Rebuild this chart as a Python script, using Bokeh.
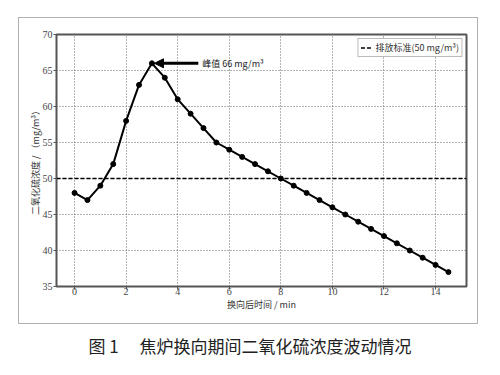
from bokeh.plotting import figure
from bokeh.models import (ColumnDataSource, Label, Arrow, NormalHead, Title,
                          Legend, LegendItem, FixedTicker, InlineStyleSheet)
from bokeh.embed import file_html
from bokeh.resources import INLINE

# ---- data ----
time_min = [0, 0.5, 1, 1.5, 2, 2.5, 3, 3.5, 4, 4.5, 5, 5.5, 6, 6.5, 7, 7.5,
            8, 8.5, 9, 9.5, 10, 10.5, 11, 11.5, 12, 12.5, 13, 13.5, 14, 14.5]
so2 = [48, 47, 49, 52, 58, 63, 66, 64, 61, 59, 57, 55, 54, 53, 52, 51,
       50, 49, 48, 47, 46, 45, 44, 43, 42, 41, 40, 39, 38, 37]
standard = 50
peak_x = 3
peak_y = 66
x_ticks = [0, 2, 4, 6, 8, 10, 12, 14]
y_ticks = [35, 40, 45, 50, 55, 60, 65, 70]
x_lo, x_hi = -0.7, 15.2
y_lo, y_hi = 35, 70

legend_label = "排放标准(50 mg/m³)"
peak_label = "峰值 66 mg/m³"
x_label = "换向后时间 / min"
y_label = "二氧化硫浓度 / （mg/m³）"
caption = "图\u00a01\u3000\u00a0焦炉换向期间二氧化硫浓度波动情况"

CJK = "Noto Sans CJK SC"
SERIF = "Liberation Serif"

p = figure(width=500, height=375, output_backend="svg", toolbar_location=None,
           x_range=(x_lo, x_hi), y_range=(y_lo, y_hi),
           min_border_left=56, min_border_right=34, min_border_top=34, min_border_bottom=88)
p.background_fill_color = "white"
p.border_fill_color = "white"
p.outline_line_color = "#555555"
p.outline_line_width = 2

# outer frame box (decorative border of the figure panel)
p.stylesheets = [InlineStyleSheet(css=(
    ":host::after{content:'';position:absolute;left:18px;top:17px;"
    "width:458px;height:305px;border:1px solid #b0b0b0;pointer-events:none;}"))]

# grids
for g in (p.xgrid, p.ygrid):
    g.grid_line_color = "#666666"
    g.grid_line_dash = "1 2"
    g.grid_line_width = 1
p.xaxis.ticker = FixedTicker(ticks=x_ticks)
p.yaxis.ticker = FixedTicker(ticks=y_ticks)
p.xgrid.ticker = FixedTicker(ticks=x_ticks)
p.ygrid.ticker = FixedTicker(ticks=y_ticks)

for ax in (p.xaxis, p.yaxis):
    ax.axis_line_color = "#555555"
    ax.major_tick_line_color = "#555555"
    ax.major_tick_out = 3
    ax.major_tick_in = 0
    ax.minor_tick_line_color = None
    ax.major_label_text_font = SERIF
    ax.major_label_text_font_size = "10px"
    ax.major_label_text_color = "#444444"
    ax.axis_label_text_font = CJK
    ax.axis_label_text_font_size = "9px"
    ax.axis_label_text_font_style = "normal"
    ax.axis_label_text_color = "#333333"
p.xaxis.axis_label = x_label
p.yaxis.axis_label = y_label
p.xaxis.major_label_standoff = -2
p.yaxis.major_label_standoff = 1
p.xaxis.axis_label_standoff = 0
p.yaxis.axis_label_standoff = -2

# standard line
std_r = p.line([x_lo, x_hi], [standard, standard], line_color="black",
               line_width=1.6, line_dash="4 2")

# data line
src = ColumnDataSource(dict(x=time_min, y=so2))
p.line("x", "y", source=src, line_color="black", line_width=2)
p.scatter("x", "y", source=src, size=5, color="black")

# peak arrow + label
p.add_layout(Arrow(end=NormalHead(size=9, fill_color="black", line_color="black"),
                   x_start=peak_x + 1.8, y_start=peak_y, x_end=peak_x + 0.1, y_end=peak_y,
                   line_width=3, line_color="black"))
p.add_layout(Label(x=peak_x + 1.95, y=peak_y, text=peak_label, text_font=CJK,
                   text_font_size="9px", text_baseline="middle", text_color="#222222"))

legend = Legend(items=[LegendItem(label=legend_label, renderers=[std_r])],
                location="top_right", label_text_font=CJK, label_text_font_size="9px",
                label_text_color="#333333", label_height=9, glyph_height=9, glyph_width=12,
                padding=2, margin=4, spacing=0, label_standoff=3,
                border_line_color="#777777", border_line_width=1,
                background_fill_alpha=1)
p.add_layout(legend)

# caption
p.add_layout(Title(text=caption, text_font=CJK, text_font_size="17px",
                   text_font_style="normal", text_color="#222222",
                   align="left", standoff=35, offset=32), "below")

open("out.html", "w").write(file_html(p, INLINE))
